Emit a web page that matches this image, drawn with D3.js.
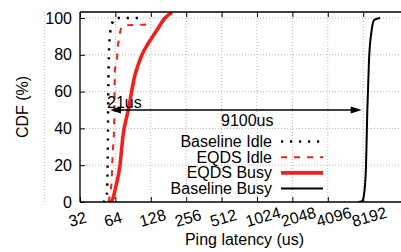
<!DOCTYPE html>
<html>
<head>
<meta charset="utf-8">
<script src="https://cdn.jsdelivr.net/npm/d3@7"></script>
<style>
  html, body { margin: 0; padding: 0; background: #fff; }
  svg { display: block; font-family: "Liberation Sans", Arial, sans-serif; }
</style>
</head>
<body>
<svg id="chart" width="401" height="252"></svg>
<script>
// ---- data (latency in us, CDF in %) ----
const xTicks = [32, 64, 128, 256, 512, 1024, 2048, 4096, 8192];
const yTicks = [0, 20, 40, 60, 80, 100];

const baselineIdleX = [50.2, 53.8, 54.6, 55.2, 55.7, 57.0, 59.9, 64.8, 107.7];
const baselineIdleY = [0, 2, 10, 30, 60, 88, 97, 100, 100];

const eqdsIdleX = [55.7, 57.6, 59.5, 60.2, 61.4, 62.3, 63.5, 65.7, 66.9, 68.7, 72.4, 77.2, 118.1, 122.4];
const eqdsIdleY = [0, 4, 12, 21, 32, 39, 72, 76, 83, 89, 95, 96, 96.5, 100];

const eqdsBusyX = [57.6, 61.1, 63.5, 70.0, 74.3, 82.4, 93.9, 100.5, 107.7, 121.2, 131.5, 144.5, 169.0, 193.9];
const eqdsBusyY = [0, 2, 6.5, 20, 36, 50, 69, 75, 80, 86, 89.5, 93.5, 100, 103];

const baselineBusyX = [7400, 8003, 8323, 8653, 8880, 9178, 9674, 10183, 11385];
const baselineBusyY = [0, 0.5, 4, 19, 50, 77, 93.5, 99, 100];

const seriesNames = ["Baseline Idle", "EQDS Idle", "EQDS Busy", "Baseline Busy"];

// annotations
const arrowFrom = 57.6, arrowTo = 7960, arrowPct = 50;
const annoLabels = ["21us", "9100us"];
const annoX = [54.3, 506];
const annoPct = [51.1, 41.3];

(function () {
// ---- layout ----
const svg = d3.select("#chart");
const W = 401, H = 252;
const mLeft = 80, mBottom = 202, mTop = 12;
const octave = 35.4;

const x = d3.scaleLog().base(2).domain([32, 32768]).range([mLeft, mLeft + 10 * octave]);
const y = d3.scaleLinear().domain([0, 100]).range([mBottom, 18]);

svg.append("rect").attr("width", W).attr("height", H).attr("fill", "#fff");

svg.append("defs").append("clipPath").attr("id", "plotclip")
  .append("rect").attr("x", mLeft).attr("y", mTop).attr("width", W - mLeft).attr("height", mBottom - mTop);

// grid
const grid = svg.append("g").attr("stroke", "#b8b8b8").attr("stroke-width", 1).attr("stroke-dasharray", "1,2");
grid.selectAll("line.h").data(yTicks.slice(1)).join("line").attr("class", "h")
  .attr("x1", mLeft).attr("x2", W).attr("y1", d => y(d)).attr("y2", d => y(d));
grid.selectAll("line.v").data([16].concat(xTicks.slice(1))).join("line").attr("class", "v")
  .attr("x1", d => x(d)).attr("x2", d => x(d)).attr("y1", mTop).attr("y2", mBottom);

// curves
const line = d3.line().x(d => x(d[0])).y(d => y(d[1])).curve(d3.curveMonotoneX);
const zip = (a, b) => a.map((v, i) => [v, b[i]]);
const styles = [
  { color: "#000", width: 2.5, dash: "2.2,6.8" },
  { color: "#f0201a", width: 2, dash: "6,7" },
  { color: "#f0201a", width: 3.6, dash: null },
  { color: "#000", width: 2, dash: null }
];
const series = [
  zip(baselineIdleX, baselineIdleY),
  zip(eqdsIdleX, eqdsIdleY),
  zip(eqdsBusyX, eqdsBusyY),
  zip(baselineBusyX, baselineBusyY)
];
const curves = svg.append("g").attr("clip-path", "url(#plotclip)");
series.forEach((s, i) => {
  curves.append("path").attr("d", line(s)).attr("fill", "none")
    .attr("stroke", styles[i].color).attr("stroke-width", styles[i].width)
    .attr("stroke-dasharray", styles[i].dash)
    .attr("stroke-linejoin", "round");
});

// axes
const fontSize = 16;
const yAxis = svg.append("g").attr("transform", `translate(${mLeft},0)`)
  .call(d3.axisLeft(y).tickValues(yTicks).tickSize(-5).tickPadding(8));
yAxis.select(".domain").remove();
yAxis.selectAll("text").attr("font-size", fontSize).attr("font-family", "Liberation Sans, Arial, sans-serif").attr("fill", "#000");
yAxis.selectAll("line").attr("stroke", "#000");

const xAxis = svg.append("g").attr("transform", `translate(0,${mBottom})`)
  .call(d3.axisBottom(x).tickValues(xTicks).tickSize(-5).tickFormat(d3.format("d")));
xAxis.select(".domain").remove();
xAxis.selectAll("line").attr("stroke", "#000");
xAxis.selectAll("text")
  .attr("x", 0).attr("y", 0).attr("dy", null)
  .attr("text-anchor", "start")
  .attr("transform", "translate(-10,25) rotate(-16)")
  .attr("font-size", fontSize).attr("font-family", "Liberation Sans, Arial, sans-serif").attr("fill", "#000");

const xTop = svg.append("g").attr("transform", `translate(0,${mTop})`)
  .call(d3.axisTop(x).tickValues(xTicks).tickSize(-5).tickFormat(""));
xTop.select(".domain").remove();
xTop.selectAll("line").attr("stroke", "#000");

// borders
const border = svg.append("g").attr("stroke", "#000").attr("stroke-width", 1.3);
border.append("line").attr("x1", mLeft).attr("x2", mLeft).attr("y1", mTop).attr("y2", mBottom);
border.append("line").attr("x1", mLeft).attr("x2", W).attr("y1", mTop).attr("y2", mTop);
border.append("line").attr("x1", mLeft).attr("x2", W).attr("y1", mBottom).attr("y2", mBottom);

// axis titles
svg.append("text").attr("x", 244.5).attr("y", 245).attr("text-anchor", "middle")
  .attr("font-size", fontSize).text("Ping latency (us)");
svg.append("text").attr("transform", "translate(28,107) rotate(-90)").attr("text-anchor", "middle")
  .attr("font-size", fontSize).text("CDF (%)");

// legend
const legend = svg.append("g");
seriesNames.forEach((name, i) => {
  const by = 147 + i * 15.7;
  legend.append("text").attr("x", 272).attr("y", by).attr("text-anchor", "end")
    .attr("font-size", fontSize).text(name);
  legend.append("line").attr("x1", 281).attr("x2", 323).attr("y1", by - 5.5).attr("y2", by - 5.5)
    .attr("stroke", styles[i].color).attr("stroke-width", styles[i].width)
    .attr("stroke-dasharray", styles[i].dash);
});

// annotations: arrows
const ay = y(arrowPct);
const ax1 = x(arrowFrom), ax2 = x(arrowTo);
svg.append("line").attr("x1", ax1 + 4).attr("x2", ax2 - 4).attr("y1", ay).attr("y2", ay)
  .attr("stroke", "#000").attr("stroke-width", 1.3);
svg.append("path").attr("d", `M${ax1},${ay} L${ax1 + 11},${ay - 3.5} L${ax1 + 11},${ay + 3.5} Z`).attr("fill", "#000");
svg.append("path").attr("d", `M${ax2},${ay} L${ax2 - 11},${ay - 3.5} L${ax2 - 11},${ay + 3.5} Z`).attr("fill", "#000");

annoLabels.forEach((t, i) => {
  svg.append("text").attr("x", x(annoX[i])).attr("y", y(annoPct[i]))
    .attr("font-size", fontSize).text(t);
});
})();
</script>
</body>
</html>
